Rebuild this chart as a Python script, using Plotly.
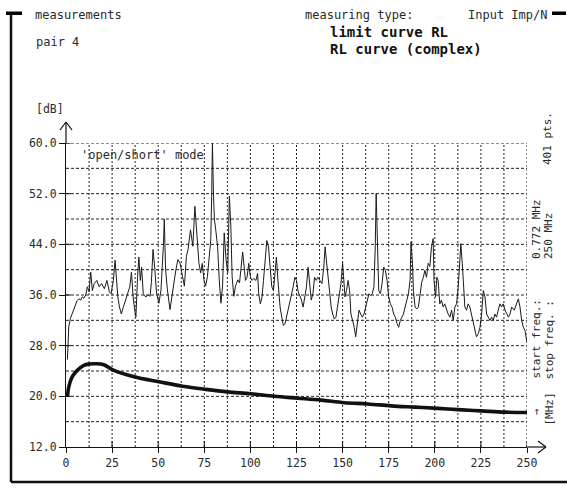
import plotly.graph_objects as go

# ---------------- data ----------------
rl_freq = [0.77, 1.5, 2.4, 3.3, 4.2, 5.1, 6, 7, 8, 8.8, 9.7, 10.7, 11.6, 12.5, 13.4, 14.3, 15.3, 16.7, 18,
           19.3, 20.8, 22.2, 23.5, 24.4, 25.7, 26.6, 27.4, 28.1, 29, 30, 31, 32.2, 33.6, 34.6, 35.5, 36.4,
           37.3, 37.9, 38.8, 39.5, 40.3, 41, 41.9, 43.2, 44.7, 45.6, 46.3, 47.2, 48.2, 49.1, 50.4, 51.5,
           52.8, 53.3, 54, 55, 56.4, 57.4, 58.3, 59.6, 60.7, 61.9, 63.2, 64.2, 65.3, 66.2, 67.5, 68.8,
           69.9, 70.6, 71.3, 72.1, 73, 73.9, 74.8, 75.7, 76.7, 77.6, 78.5, 79, 79.4, 80, 80.5, 81.2, 82.2,
           83.1, 84, 84.9, 85.8, 86.8, 87.7, 88.6, 89.4, 90.1, 91, 91.9, 93.2, 94.1, 95.8, 96.8, 97.3,
           98.2, 99.1, 100, 100.9, 101.8, 103, 103.9, 104.5, 105.4, 106.3, 107.1, 108, 108.9, 109.8,
           110.7, 111.6, 112.5, 113.4, 114.1, 114.8, 115.4, 116.1, 117, 117.9, 118.8, 119.6, 120.5,
           121.4, 122.3, 123.2, 124.1, 125, 125.9, 126.8, 127.7, 128.6, 129.5, 130.4, 131.3, 132.1,
           133, 133.9, 134.8, 135.7, 136.6, 137.7, 138.8, 139.8, 140.5, 141.2, 142, 142.9, 143.8, 144.6,
           145.5, 146.4, 147.3, 148.2, 149.1, 150, 150.5, 151.3, 152.1, 153, 153.8, 154.5, 155.4, 156.3,
           157.1, 158, 158.9, 159.8, 160.7, 161.6, 162.5, 163.4, 164.3, 165.2, 166.1, 167, 167.7, 168.2,
           168.8, 169.6, 170.5, 171.4, 172.3, 173.2, 174.1, 175, 175.9, 176.8, 177.7, 178.6, 179.5,
           180.4, 181.3, 182.1, 183, 183.9, 184.8, 185.7, 186.6, 187.1, 187.9, 188.4, 189.3, 190.2,
           191.1, 192, 192.9, 193.8, 194.6, 195.5, 196.4, 197.3, 198.2, 199.1, 199.6, 200.4, 201.1,
           201.8, 202.7, 203.6, 204.5, 205.4, 206.3, 207.2, 208.2, 209.1, 210, 210.9, 211.8, 212.7,
           213.6, 214.1, 214.9, 215.6, 216.3, 217.2, 218.1, 219, 219.9, 220.8, 221.7, 222.6, 223.6,
           224.5, 225.4, 226.3, 227.2, 228.1, 229, 229.9, 230.8, 231.7, 232.6, 233.5, 234.4, 235.3,
           236.2, 237.1, 238.1, 239, 239.9, 240.8, 241.7, 243.1, 244.4, 245.3, 246.2, 247.1, 248,
           248.9, 249.8, 250]
rl_db = [25.8, 31, 32.3, 33, 34, 34.6, 35.1, 35.4, 35.2, 35.7, 35.5, 36, 37.3, 36.5, 39.6, 36.7, 37.8, 38.3,
         37.3, 37.8, 37, 38.3, 36.5, 36.2, 38.3, 41.5, 38.3, 35.7, 34.1, 33, 34, 35.2, 36.2, 37.3, 39.6,
         35.7, 33.6, 32.5, 38.8, 42, 38.3, 40.4, 36.2, 35.7, 36, 35.8, 38, 43.2, 40, 36.3, 34.7, 36.8,
         43.7, 48, 40, 36.8, 33.7, 35.8, 37.9, 40, 41.6, 41, 38.9, 37.4, 42.1, 43.2, 46.3, 43.7,
         50, 46.8, 43.7, 41, 39.5, 41, 38.4, 37.4, 38.9, 42.1, 44.7, 51.6, 60, 51.6, 47.9, 46.3, 43.7,
         38.4, 34.7, 37.4, 45.8, 41.6, 39.5, 51.6, 46.8, 38.9, 35.8, 37.4, 38.4, 37.9, 42.8, 39.9, 38.3,
         38.8, 41, 38.8, 38.3, 38.6, 38.3, 39.4, 36.2, 34.6, 35.7, 38.3, 41, 44.6, 43.6,
         39.9, 37.3, 36.7, 39.4, 42, 38.8, 35.7, 34.1, 32.5, 31.2, 31.5, 32.5, 33.6,
         35.2, 36.2, 37.3, 38.8, 38.3, 36.5, 35.9, 35.2, 34.1, 35.7, 37.3, 40.4, 38.3,
         35.2, 36.2, 38.8, 38.3, 38.8, 38.3, 37.8, 40.4, 43.6, 41.5, 38.8, 36.2, 34.1, 33,
         32.2, 32.5, 34.3, 35.7, 37.8, 41, 38.3, 35.7, 36.7, 38.3, 36.7, 33, 32, 30.9,
         29.4, 32, 33.6, 33, 32.5, 33, 34.1, 35.2, 36.2, 35.9, 36.2, 37.3, 43.6, 52,
         43.6, 36.7, 36.2, 37.8, 40.4, 39.9, 38.3, 35.7, 34.6, 34.1, 33, 32.5, 31.5,
         30.9, 32, 32.5, 33, 34.1, 35.2, 36.2, 38.3, 44.4, 41, 36.7, 34.1, 33.8,
         34.1, 35.7, 38, 38.8, 39.9, 38.8, 41, 40.5, 43.6, 44.9, 38.3, 35.7, 38.8,
         38.3, 34.6, 35.2, 34.1, 34.6, 33.6, 33, 32.5, 33.6, 32, 34.1, 34.6, 37.3,
         41.5, 44.1, 41, 36.7, 34.1, 33.6, 34.6, 34.1, 33, 32, 30.4, 29.4, 29.9,
         30.9, 33, 36.7, 35.7, 33, 32.5, 32, 32.5, 32, 33, 32.5, 33.6, 34.6,
         34.1, 34.6, 33.6, 33, 32.5, 33, 34.1, 33.6, 34.6, 35.4, 34.1, 32, 30.9,
         30.4, 28.8, 28.5]

lim_freq = [0.77, 1.5, 3.4, 6.1, 9.7, 12.5, 16, 20.5, 26, 36.9, 50.5, 63.2, 75.8, 87.6, 100.3, 113, 125.7,
            138.3, 151, 163.7, 176.4, 189, 201.7, 212.6, 225.3, 237.9, 250]
lim_db = [19.9, 21.5, 23.1, 24.1, 24.9, 25.1, 25.15, 25.0, 24.1, 23.1, 22.3, 21.6, 21.1, 20.7, 20.4, 20.0, 19.7,
          19.4, 19.0, 18.8, 18.5, 18.3, 18.1, 17.9, 17.7, 17.5, 17.45]

x_ticks = [0, 25, 50, 75, 100, 125, 150, 175, 200, 225, 250]
y_ticks = [12, 20, 28, 36, 44, 52, 60]
x_grid = [12.5 * i for i in range(1, 21)]
y_grid = [16 + 4 * i for i in range(12)]

# ---------------- layout geometry ----------------
W, H = 567, 488
L, R, T, B = 66, 40, 143, 41
PW, PH = W - L - R, H - T - B
MONO = "DejaVu Sans Mono"
TXT = "#2a2a2a"


def px(xp):
    return (xp - L) / PW


def py(yp):
    return (H - B - yp) / PH


fig = go.Figure()
fig.add_trace(go.Scatter(x=rl_freq, y=rl_db, mode="lines",
                         line=dict(color="#1a1a1a", width=1), showlegend=False))
fig.add_trace(go.Scatter(x=lim_freq, y=lim_db, mode="lines",
                         line=dict(color="#111111", width=3.6, shape="spline"), showlegend=False))

shapes = []
for gx in x_grid:
    shapes.append(dict(type="line", xref="x", yref="y", x0=gx, x1=gx, y0=12, y1=60,
                       line=dict(color="#222", width=1, dash="2px,2px"), layer="below"))
for gy in y_grid:
    shapes.append(dict(type="line", xref="x", yref="y", x0=0, x1=250, y0=gy, y1=gy,
                       line=dict(color="#222", width=1, dash="3px,2px"), layer="below"))
# inner half of the crossing ticks
for tx in x_ticks[1:]:
    shapes.append(dict(type="line", xref="x", yref="paper", x0=tx, x1=tx, y0=0, y1=py(H - B - 6),
                       line=dict(color="#111", width=1)))
for ty in y_ticks[1:]:
    shapes.append(dict(type="line", xref="paper", yref="y", x0=0, x1=px(L + 5), y0=ty, y1=ty,
                       line=dict(color="#111", width=1)))
# axis extensions with open arrow heads
ax = dict(color="#111", width=1.2)
shapes += [
    dict(type="line", xref="paper", yref="paper", x0=0, x1=0, y0=1, y1=py(122), line=ax),
    dict(type="line", xref="paper", yref="paper", x0=px(L - 6), x1=0, y0=py(130), y1=py(122), line=ax),
    dict(type="line", xref="paper", yref="paper", x0=px(L + 6), x1=0, y0=py(130), y1=py(122), line=ax),
    dict(type="line", xref="paper", yref="paper", x0=1, x1=px(546), y0=0, y1=0, line=ax),
    dict(type="line", xref="paper", yref="paper", x0=px(538), x1=px(546), y0=py(H - B - 6), y1=0, line=ax),
    dict(type="line", xref="paper", yref="paper", x0=px(538), x1=px(546), y0=py(H - B + 6), y1=0, line=ax),
]
# outer frame
fr = dict(color="#111", width=2.5)
shapes += [
    dict(type="line", xref="paper", yref="paper", x0=px(11), x1=px(11), y0=py(13), y1=py(482), line=fr),
    dict(type="line", xref="paper", yref="paper", x0=px(11), x1=px(567), y0=py(482), y1=py(482), line=fr),
    dict(type="rect", xref="paper", yref="paper", x0=px(6), x1=px(22), y0=py(11.5), y1=py(15),
         fillcolor="#000", line=dict(width=0)),
    dict(type="rect", xref="paper", yref="paper", x0=px(552), x1=px(566), y0=py(11.5), y1=py(15),
         fillcolor="#000", line=dict(width=0)),
]


def ann(text, x, y, size=12, xanchor="left", yanchor="middle", angle=0, bold=False, color=TXT):
    return dict(text=("<b>%s</b>" % text) if bold else text, x=px(x), y=py(y), xref="paper", yref="paper",
                showarrow=False, xanchor=xanchor, yanchor=yanchor, textangle=angle,
                font=dict(family=MONO, size=size, color=color))


annotations = [
    ann("measurements", 33, 15),
    ann("measuring type:", 303, 15),
    ann("Input Imp/N", 466, 15),
    ann("pair 4", 34, 42),
    ann("limit curve RL", 328, 32, size=14, bold=True, color="#111"),
    ann("RL curve (complex)", 328, 49.5, size=14, bold=True, color="#111"),
    ann("[dB]", 34, 109, size=11.5),
    ann("'open/short' mode", 79, 155, size=12),
    ann("401 pts.", 547, 139, size=11, xanchor="center", angle=-90),
    ann("0.772 MHz", 536, 261, size=11, xanchor="center", yanchor="bottom", angle=-90),
    ann("250 MHz", 548, 261, size=11, xanchor="center", yanchor="bottom", angle=-90),
    ann("start freq.:", 536, 381, size=11, xanchor="center", yanchor="bottom", angle=-90),
    ann("stop freq. :", 549, 382, size=11, xanchor="center", yanchor="bottom", angle=-90),
    ann("[MHz]", 549, 428, size=11, xanchor="center", yanchor="bottom", angle=-90),
    ann("→", 536, 412, size=11, xanchor="center", angle=-90),
]

fig.update_layout(
    width=W, height=H, margin=dict(l=L, r=R, t=T, b=B, pad=0),
    paper_bgcolor="white", plot_bgcolor="white",
    shapes=shapes, annotations=annotations, showlegend=False,
    xaxis=dict(range=[0, 250], showgrid=False, zeroline=False, showline=True, linecolor="#111", linewidth=1.2,
               ticks="outside", ticklen=5, tickcolor="#111", tickwidth=1,
               tickvals=x_ticks, ticktext=[str(v) for v in x_ticks],
               tickfont=dict(family=MONO, size=11.5, color=TXT), fixedrange=True),
    yaxis=dict(range=[12, 60], showgrid=False, zeroline=False, showline=True, linecolor="#111", linewidth=1.2,
               ticks="outside", ticklen=6, tickcolor="#111", tickwidth=1,
               tickvals=y_ticks, ticktext=["%.1f" % v for v in y_ticks],
               tickfont=dict(family=MONO, size=11.5, color=TXT), fixedrange=True),
)

fig.write_html("out.html", config={"displayModeBar": False},
               post_script="document.body.style.margin='0';document.body.style.overflow='hidden';")
